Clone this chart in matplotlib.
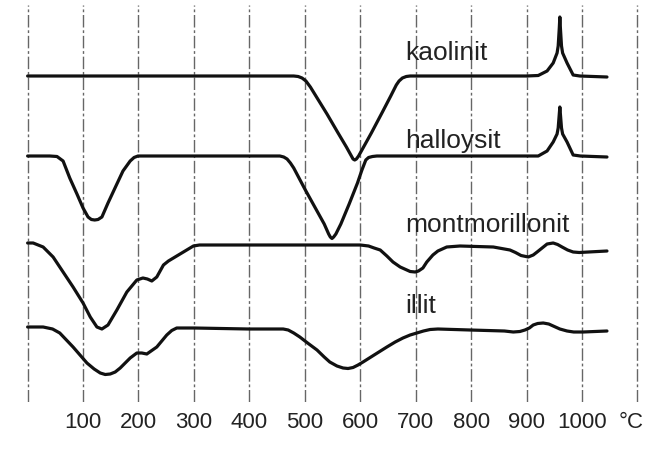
import numpy as np
import matplotlib
matplotlib.use("Agg")
import matplotlib.pyplot as plt

plt.rcParams['font.family'] = ['Liberation Sans', 'DejaVu Sans']

# DTA curves, temperature in degC, signal in arbitrary units (up = exothermic)
kaol_t = [0, 100, 200, 300, 400, 480, 488, 495, 502, 510, 520, 540, 560, 575, 583,
          587, 590, 593, 597, 605, 620, 640, 655, 665, 670, 676, 683, 690, 800,
          900, 921, 937, 948, 955, 957, 959, 960, 961, 963, 965, 973, 984, 996, 1045]
kaol_v = [0, 0, 0, 0, 0, 0, -0.5, -2, -5, -11, -20, -38, -57, -71, -79,
          -83, -84, -83, -80, -72, -57, -36, -20, -9, -5, -2, -0.5, 0, 0,
          0, 0.5, 5, 13, 23, 30, 48, 59, 48, 30, 23, 13, 1, 0, -1]

hall_t = [0, 40, 53, 64, 76, 89, 100, 109, 115, 121, 127, 134, 145, 161, 172, 185,
          192, 199, 300, 400, 455, 462, 468, 474, 480, 500, 520, 535, 543, 546,
          549, 552, 556, 565, 580, 595, 603, 610, 615, 622, 630, 800, 900, 921,
          937, 948, 955, 957, 959, 960, 961, 963, 965, 973, 984, 997, 1045]
hall_v = [0, 0, -0.5, -5, -22, -38, -52, -61, -63.5, -64, -63.5, -61, -47, -28, -15, -5,
          -1.5, 0, 0, 0, 0, -1, -3, -7, -12, -33, -53, -68, -78, -81,
          -82.5, -81, -78, -68, -48, -27, -14, -4, -1.5, -0.5, 0, 0, 0, 0,
          5, 14, 22, 28, 42, 49, 42, 28, 22, 14, 1, 0, -1]

mont_t = [0, 10, 28, 46, 64, 82, 100, 113, 125, 134, 145, 161, 179, 197, 208,
          216, 224, 233, 245, 254, 263, 272, 281, 290, 299, 310, 400, 500, 600,
          615, 625, 636, 648, 659, 672, 684, 690, 699, 705, 713, 720, 731, 740,
          756, 780, 840, 870, 880, 890, 903, 912, 919, 928, 937, 948, 956, 964,
          974, 984, 995, 1045]
mont_v = [2, 2, -2, -12, -27, -42, -58, -72, -82, -84, -80, -65, -47, -35, -33,
          -34, -36, -32, -20, -16, -13, -10, -7, -4, -1, 0, 0, 0, 0,
          -1, -3, -5, -11, -17, -22, -25, -26.5, -27, -26, -23, -17, -10, -6,
          -2, -1, -2, -5, -7.5, -10.5, -12, -10, -7, -3, 1, 2, 0.5, -2,
          -5, -7, -7.5, -6]

illit_t = [0, 28, 45, 58, 82, 107, 120, 131, 140, 149, 158, 167, 185, 197, 206,
           215, 233, 251, 260, 269, 300, 398, 461, 470, 480, 491, 505, 522, 535,
           545, 558, 569, 578, 587, 596, 605, 625, 648, 663, 677, 690, 702, 714,
           726, 740, 798, 860, 876, 888, 897, 905, 912, 920, 930, 940, 948, 960,
           973, 985, 1002, 1045]
illit_v = [1, 1, -1, -5, -19, -35, -41, -45, -46.5, -46, -44, -40, -30, -25, -25,
           -26, -19, -7, -2.5, 0, 0, -1, -1, -2, -5, -9, -15, -22, -29,
           -34, -38, -40, -40.5, -39.5, -37, -34, -27, -19, -14, -10, -7, -5, -3,
           -1.5, -1, -2, -3, -4, -3.5, -2, 0, 3, 4.5, 5, 4, 2, -1,
           -3, -4, -4, -3]

names = ['kaolinit', 'halloysit', 'montmorillonit', 'illit']
temps = [kaol_t, hall_t, mont_t, illit_t]
values = [kaol_v, hall_v, mont_v, illit_v]

tick_pos = list(range(0, 1101, 100))
tick_lab = [''] + [str(t) for t in range(100, 1001, 100)] + ['']

fig = plt.figure(figsize=(6.46, 4.55), dpi=100)
ax = fig.add_axes([0, 53 / 455, 1, 397 / 455])

# vertical spacing of the stacked curves and label baselines (px from top)
baselines = [76, 156, 245, 328]
label_y = [60, 148, 232, 313]

for name, t, v, b, ly in zip(names, temps, values, baselines, label_y):
    y = np.array(v, dtype=float) - b
    ax.plot(t, y, color='#111111', lw=2.3, solid_joinstyle='round',
            solid_capstyle='round')
    ax.text(681, -ly, name, fontsize=19, color='#222222', ha='left',
            va='baseline')

ax.set_xlim(-49.8, 1115.4)
ax.set_ylim(-402, -5)
ax.set_xticks(tick_pos)
ax.set_xticklabels(tick_lab, fontsize=16, color='#222222')
ax.set_yticks([])
ax.tick_params(axis='x', length=0, pad=7)
ax.grid(axis='x', color='#666666', lw=1.0, ls=(0, (9, 2, 2, 2)))
for s in ax.spines.values():
    s.set_visible(False)

# unit label sits where the last tick label would be
ax.text(1088, -423, '°C', fontsize=16, color='#222222', ha='center', va='center')

fig.savefig('out.png', dpi=100)
